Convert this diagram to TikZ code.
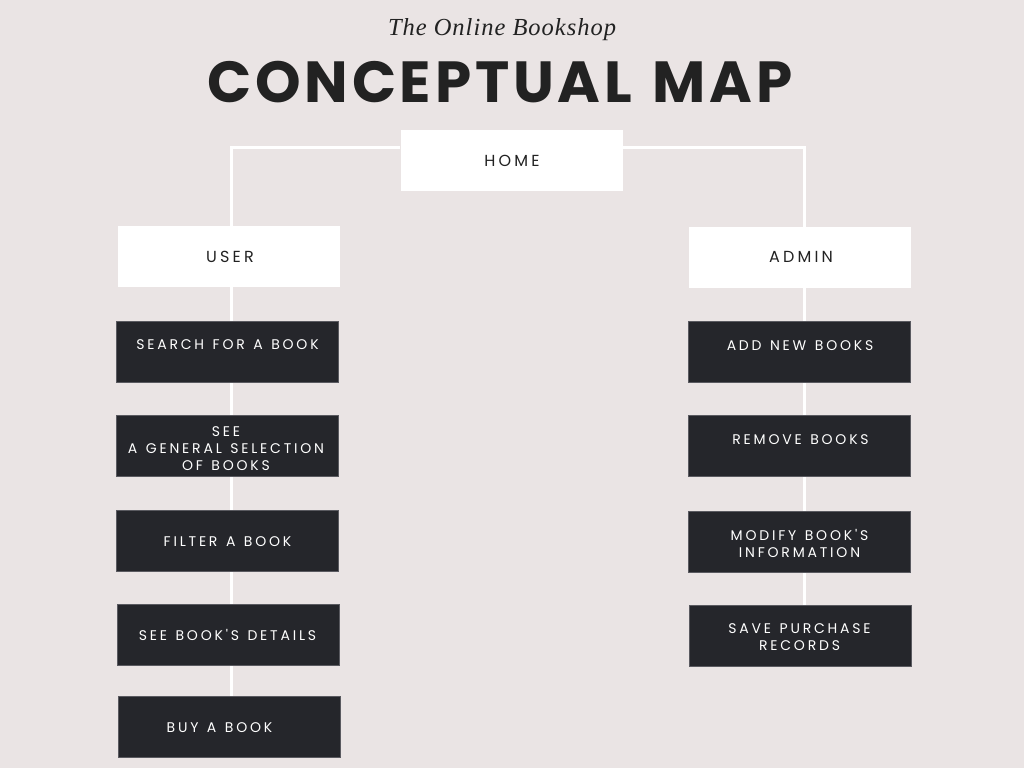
\documentclass[tikz,border=0pt]{standalone}
\usepackage{fontspec}
\setmainfont{Poppins}
\newfontfamily\boxfont[LetterSpace=20,WordSpace=1.3]{Poppins}
\newfontfamily\titlefont[LetterSpace=6.5,WordSpace=1.3]{Poppins}
\newfontfamily\subfont[LetterSpace=4]{Liberation Serif}
\usetikzlibrary{backgrounds}
\definecolor{bg}{HTML}{EAE4E4}
\definecolor{dark}{HTML}{25262B}
\definecolor{darkedge}{HTML}{5A5A60}
\definecolor{ink}{HTML}{222222}
\tikzset{
  darkbox/.style={fill=dark, draw=darkedge, line width=0.8pt, minimum width=222pt, minimum height=61pt, inner sep=0pt},
  whitebox/.style={fill=white, minimum width=222pt, minimum height=61pt, inner sep=0pt},
  dtext/.style={text=white, font=\boxfont\fontsize{14}{17}\selectfont, align=center, inner sep=0pt},
  wtext/.style={text=ink, font=\boxfont\fontsize{16}{19}\selectfont, align=center, inner sep=0pt},
  conn/.style={draw=white, line width=3pt}
}
\begin{document}
\begin{tikzpicture}[x=1pt,y=-1pt]
\useasboundingbox (0,0) rectangle (1024,768);
% title
\node[text=ink, font=\subfont\itshape\fontsize{24.5}{28}\selectfont, inner sep=0pt] (sub) at (502,30) {The Online Bookshop};
\node[text=ink, font=\titlefont\bfseries\fontsize{58}{64}\selectfont, inner sep=0pt] (title) at (500,82) {CONCEPTUAL MAP};
% boxes
\node[whitebox] (home) at (511.5,160) {};
\node[whitebox] (user) at (229,256.5) {};
\node[whitebox] (admin) at (799.5,257.5) {};
\node[darkbox] (search) at (227,351.5) {};
\node[darkbox] (see) at (227,446) {};
\node[darkbox] (filter) at (227,540.5) {};
\node[darkbox] (details) at (228,634.5) {};
\node[darkbox] (buy) at (229,726.5) {};
\node[darkbox] (add) at (799,351.5) {};
\node[darkbox] (remove) at (799.5,446) {};
\node[darkbox] (modify) at (799,541.5) {};
\node[darkbox] (save) at (800,635.5) {};
% texts
\node[wtext] at (512,161) {HOME};
\node[wtext] at (230,257) {USER};
\node[wtext] at (801,257) {ADMIN};
\node[dtext] at (227.5,344.5) {SEARCH FOR A BOOK};
\node[dtext] at (226,449) {SEE\\A GENERAL SELECTION\\OF BOOKS};
\node[dtext] at (227.5,541.5) {FILTER A BOOK};
\node[dtext] at (227.5,634.5) {SEE BOOK'S DETAILS};
\node[dtext] at (219.5,727.5) {BUY A BOOK};
\node[dtext] at (800,345.5) {ADD NEW BOOKS};
\node[dtext] at (800.5,439.5) {REMOVE BOOKS};
\node[dtext] at (799.5,543) {MODIFY BOOK'S\\INFORMATION};
\node[dtext] at (799.5,637) {SAVE PURCHASE\\RECORDS};
% connectors
\coordinate (lc) at (231,147);
\coordinate (rc) at (804,147);
\begin{scope}[on background layer]
\fill[bg] (0,0) rectangle (1024,768);
\draw[conn] (home.west |- lc) -- (lc) -- (lc |- user.north);
\draw[conn] (home.east |- rc) -- (rc) -- (rc |- admin.north);
\draw[conn] (lc |- user.south) -- (lc |- buy.north);
\draw[conn] (rc |- admin.south) -- (rc |- save.north);
\end{scope}
\end{tikzpicture}
\end{document}
